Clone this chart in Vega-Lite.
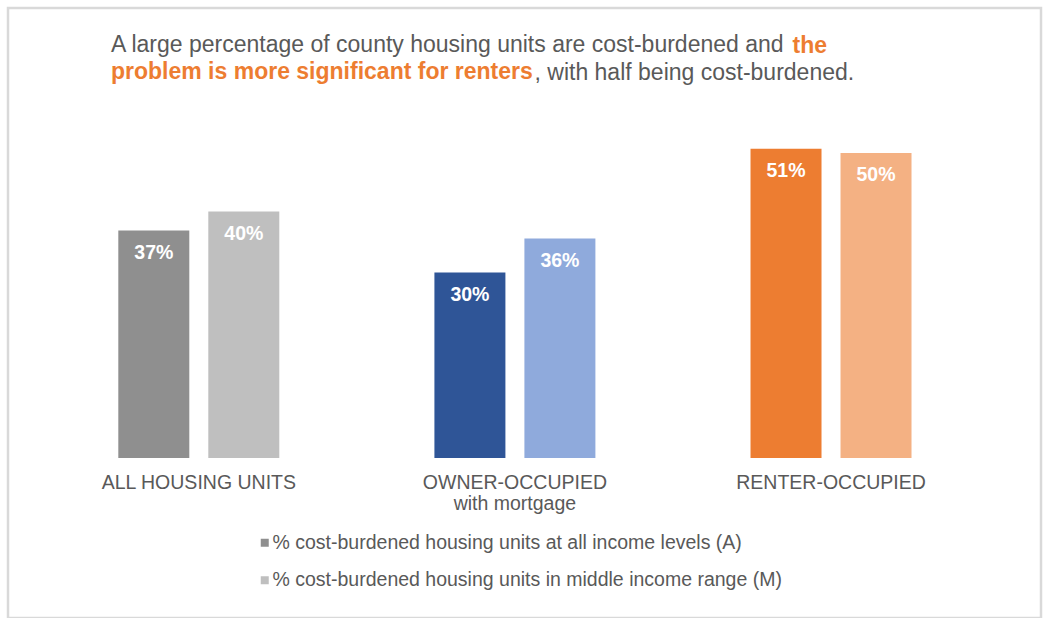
{
  "$schema": "https://vega.github.io/schema/vega-lite/v6.json",
  "autosize": {"type": "none"},
  "width": 1033,
  "height": 610,
  "padding": {"left": 8, "top": 8, "right": 5, "bottom": 0},
  "background": "white",
  "title": {
    "text": "A large percentage of county housing units are cost-burdened and",
    "subtitle": "problem is more significant for renters",
    "orient": "top",
    "anchor": "start",
    "frame": "group",
    "dx": 103,
    "offset": -76,
    "font": "Liberation Sans",
    "fontSize": 23,
    "fontWeight": "normal",
    "color": "#595959",
    "subtitleFont": "Liberation Sans",
    "subtitleFontSize": 23,
    "subtitleFontWeight": "bold",
    "subtitleColor": "#ed7d31",
    "subtitlePadding": 4.5
  },
  "data": {
    "values": [
      {"group": "ALL HOUSING UNITS", "series": "A", "key": "ALL|A", "value": 0.373},
      {"group": "ALL HOUSING UNITS", "series": "M", "key": "ALL|M", "value": 0.404},
      {"group": "OWNER-OCCUPIED\nwith mortgage", "series": "A", "key": "OWN|A", "value": 0.304},
      {"group": "OWNER-OCCUPIED\nwith mortgage", "series": "M", "key": "OWN|M", "value": 0.36},
      {"group": "RENTER-OCCUPIED", "series": "A", "key": "RENT|A", "value": 0.507},
      {"group": "RENTER-OCCUPIED", "series": "M", "key": "RENT|M", "value": 0.5}
    ]
  },
  "encoding": {
    "x": {
      "field": "group",
      "type": "nominal",
      "sort": null,
      "scale": {"paddingInner": 0.4907, "paddingOuter": 0.3793, "align": 0.46},
      "axis": {
        "title": ", with half being cost-burdened.",
        "titleX": 526,
        "titleY": -378.5,
        "titleAlign": "left",
        "titleBaseline": "alphabetic",
        "titleAngle": 0,
        "titleFont": "Liberation Sans",
        "titleFontSize": 23,
        "titleFontWeight": "normal",
        "titleColor": "#595959",
        "offset": -160,
        "domain": false,
        "ticks": false,
        "tickSize": 0,
        "labelPadding": 15,
        "labelFont": "Liberation Sans",
        "labelFontSize": 19.5,
        "labelColor": "#595959",
        "labelAngle": 0,
        "labelLineHeight": 21.5,
        "labelLimit": 400,
        "labelExpr": "split(datum.label, '\\n')"
      }
    },
    "xOffset": {
      "field": "series",
      "type": "nominal",
      "scale": {"paddingInner": 0.2111, "paddingOuter": 0}
    },
    "y": {
      "field": "value",
      "type": "quantitative",
      "stack": null,
      "scale": {"domain": [-0.2623, 0.7377], "nice": false, "zero": false},
      "axis": {
        "title": "the",
        "titleX": 784,
        "titleY": 44,
        "titleAngle": 0,
        "titleAlign": "left",
        "titleBaseline": "alphabetic",
        "titleFont": "Liberation Sans",
        "titleFontSize": 23,
        "titleFontWeight": "bold",
        "titleColor": "#ed7d31",
        "labels": false,
        "ticks": false,
        "domain": false,
        "grid": false
      }
    }
  },
  "layer": [
    {
      "mark": {"type": "bar"},
      "encoding": {
        "y2": {"datum": 0},
        "fill": {
          "field": "key",
          "type": "nominal",
          "scale": {
            "domain": ["ALL|A", "ALL|M", "OWN|A", "OWN|M", "RENT|A", "RENT|M"],
            "range": ["#8f8f8f", "#bfbfbf", "#2f5597", "#8faadc", "#ed7d31", "#f4b183"]
          },
          "legend": {
            "orient": "none",
            "legendX": 247,
            "legendY": 525,
            "direction": "vertical",
            "title": null,
            "values": ["ALL|A", "ALL|M"],
            "labelExpr": "datum.value == 'ALL|A' ? '% cost-burdened housing units at all income levels (A)' : '% cost-burdened housing units in middle income range (M)'",
            "symbolType": "square",
            "symbolSize": 64,
            "symbolStrokeWidth": 0,
            "labelFont": "Liberation Sans",
            "labelFontSize": 19.5,
            "labelColor": "#595959",
            "labelOffset": -2,
            "labelLimit": 700,
            "rowPadding": 16.5
          }
        }
      }
    },
    {
      "mark": {
        "type": "text",
        "color": "white",
        "font": "Liberation Sans",
        "fontWeight": "bold",
        "fontSize": 19.5,
        "baseline": "middle",
        "align": "center",
        "dy": 22.5
      },
      "encoding": {
        "text": {"field": "value", "type": "quantitative", "format": ".0%"}
      }
    }
  ],
  "config": {
    "font": "Liberation Sans",
    "view": {"stroke": "#d9d9d9", "strokeWidth": 2.5, "fill": "white"}
  }
}
